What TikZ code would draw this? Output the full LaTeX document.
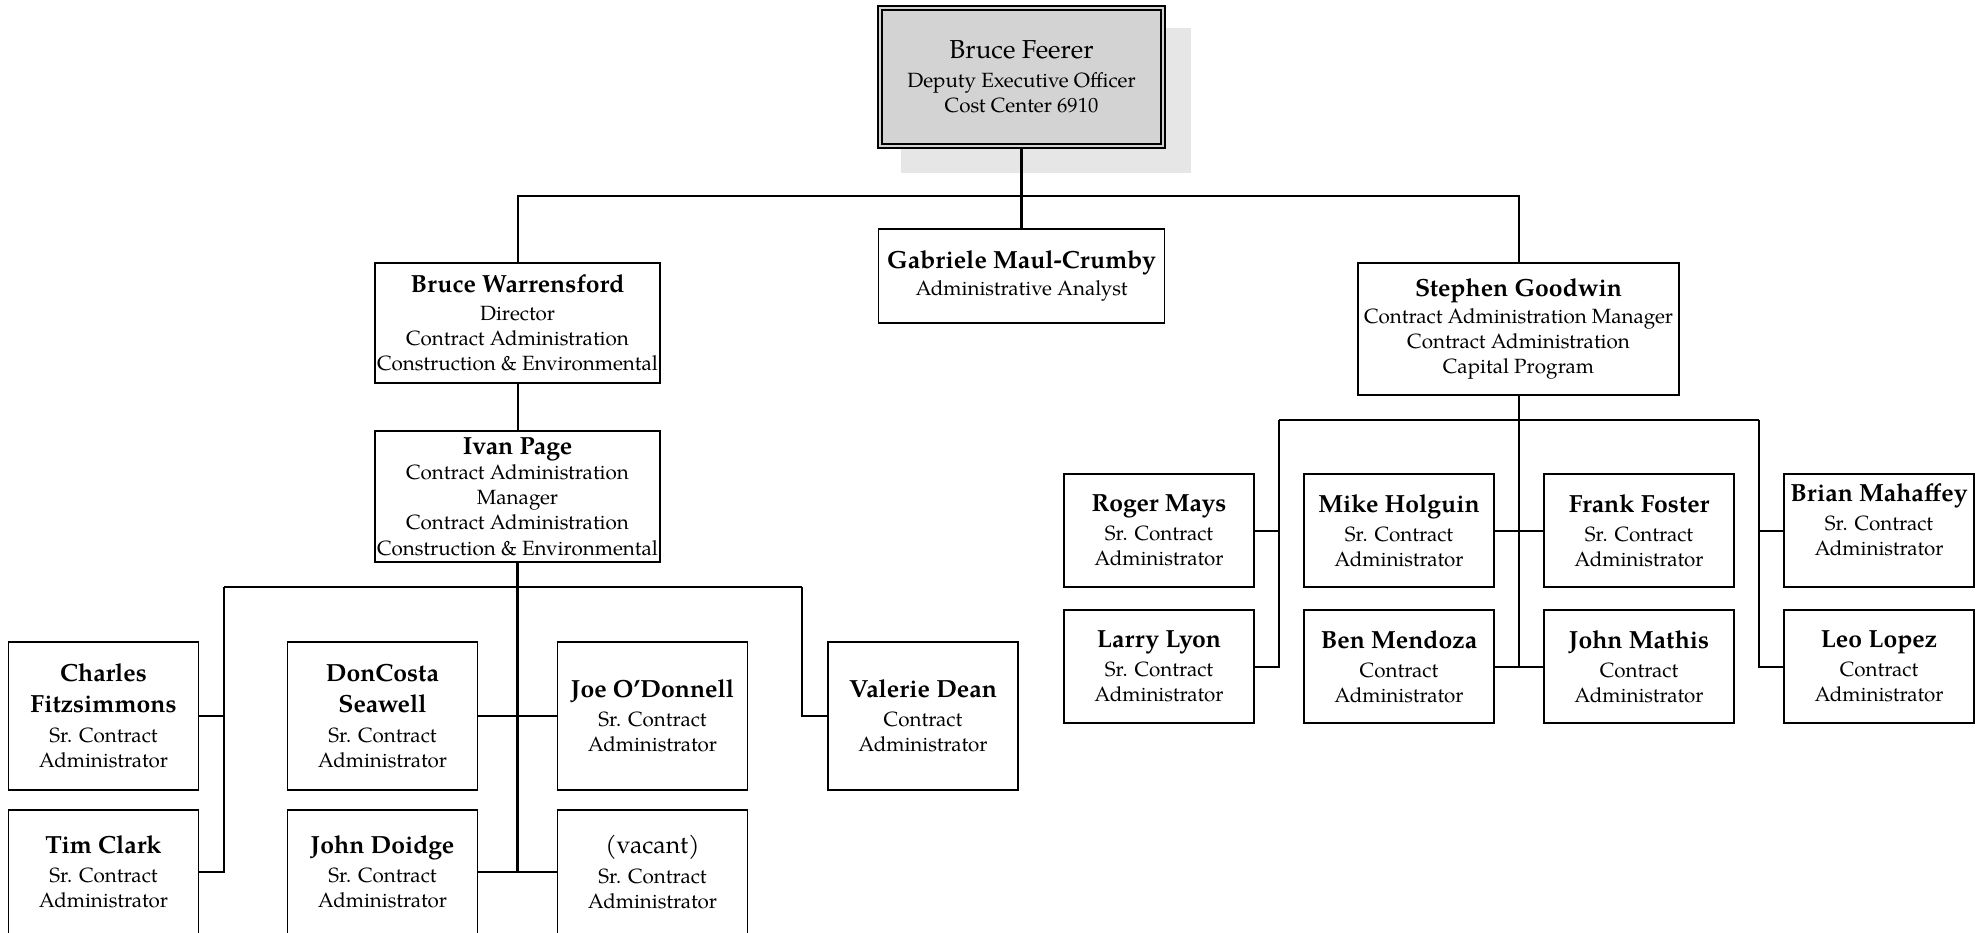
\documentclass[tikz,border=0pt]{standalone}
\usepackage{fontspec}
\setmainfont{texgyrepagella}[Extension=.otf, UprightFont=*-regular, BoldFont=*-bold, ItalicFont=*-italic, BoldItalicFont=*-bolditalic]
\definecolor{boxfill}{HTML}{D3D3D3}
\definecolor{shadowc}{HTML}{E6E6E6}
\newcommand\nmf[1]{{\fontsize{12.4}{15}\selectfont\bfseries #1}}
\begin{document}
\begin{tikzpicture}[x=0.5pt,y=-0.5pt,
  font=\fontsize{10.3}{12.6}\selectfont,
  box/.style={draw, line width=0.95pt, inner sep=0pt, align=center, fill=white, minimum width=95pt},
  lrowa/.style={box, minimum height=74pt},
  lrowb/.style={box, minimum height=62pt},
  rrow/.style={box, minimum height=56.5pt},
  topbox/.style={draw, line width=0.9pt, double=boxfill, double distance=1.1pt, fill=boxfill,
     inner sep=0pt, align=center, minimum width=141.6pt, minimum height=69pt},
  conn/.style={line width=1pt},
  trunk/.style={line width=1.4pt}]
\useasboundingbox (0,0) rectangle (1984,932);
\fill[white] (0,0) rectangle (1984,932);
% shadow of the top box
\fill[shadowc] (901,28) rectangle (1191,173);
% nodes
\node[topbox] (top) at (1021.5,77) {{\fontsize{13}{16}\selectfont Bruce Feerer}\\[2pt] Deputy Executive Officer\\ Cost Center 6910};
\node[box, minimum width=143pt, minimum height=47pt] (gab) at (1021.5,276) {\nmf{Gabriele Maul-Crumby}\\[1pt] Administrative Analyst};
\node[box, minimum width=142.5pt, minimum height=60pt] (bw) at (517.5,323) {\nmf{Bruce Warrensford}\\[1pt] Director\\ Contract Administration\\ Construction \& Environmental};
\node[box, minimum width=142.5pt, minimum height=65.5pt] (ip) at (517.5,496.5) {\nmf{Ivan Page}\\ Contract Administration\\ Manager\\ Contract Administration\\ Construction \& Environmental};
\node[box, minimum width=160.5pt, minimum height=66pt] (sg) at (1518.5,329) {\nmf{Stephen Goodwin}\\[1pt] Contract Administration Manager\\ Contract Administration\\ Capital Program};
% left group
\node[lrowa] (charles) at (103.5,716) {\nmf{Charles}\\[3pt] \nmf{Fitzsimmons}\\[2.4pt] Sr. Contract\\ Administrator};
\node[lrowb] (tim) at (103.5,872) {\nmf{Tim Clark}\\[2pt] Sr. Contract\\ Administrator};
\node[lrowa] (don) at (382.5,716) {\nmf{DonCosta}\\[3pt] \nmf{Seawell}\\[2.4pt] Sr. Contract\\ Administrator};
\node[lrowb] (doidge) at (382.5,872) {\nmf{John Doidge}\\[2pt] Sr. Contract\\ Administrator};
\node[lrowa] (joe) at (652.5,716) {\nmf{Joe O’Donnell}\\[2pt] Sr. Contract\\ Administrator};
\node[lrowb] (vac) at (652.5,872) {{\fontsize{12.4}{15}\selectfont (vacant)}\\[2pt] Sr. Contract\\ Administrator};
\node[lrowa] (val) at (923,716) {\nmf{Valerie Dean}\\[2pt] Contract\\ Administrator};
% right group
\node[rrow] (roger) at (1159,530.5) {\nmf{Roger Mays}\\[2pt] Sr. Contract\\ Administrator};
\node[rrow] (mike) at (1399,530.5) {\nmf{Mike Holguin}\\[2pt] Sr. Contract\\ Administrator};
\node[rrow] (frank) at (1639,530.5) {\nmf{Frank Foster}\\[2pt] Sr. Contract\\ Administrator};
\node[rrow] (brian) at (1879,530.5) {\nmf{Brian Mahaffey}\\[2pt] Sr. Contract\\ Administrator\\[-1.6pt]\mbox{}};
\node[rrow] (larry) at (1159,666.5) {\nmf{Larry Lyon}\\[2pt] Sr. Contract\\ Administrator};
\node[rrow] (ben) at (1399,666.5) {\nmf{Ben Mendoza}\\[2pt] Contract\\ Administrator};
\node[rrow] (mathis) at (1639,666.5) {\nmf{John Mathis}\\[2pt] Contract\\ Administrator};
\node[rrow] (leo) at (1879,666.5) {\nmf{Leo Lopez}\\[2pt] Contract\\ Administrator};
% junction coordinates
\coordinate (hub) at (1021.5,196);
\coordinate (lb) at (224,587);
\coordinate (rb) at (802,587);
\coordinate (slb) at (1279,420);
\coordinate (srb) at (1759,420);
% top connectors
\draw[conn] (bw.north) |- (hub) -| (sg.north);
\draw[trunk] (top.south) -- (gab.north);
\draw[conn] (bw.south) -- (ip.north);
% left connectors
\draw[conn] (lb) -- (rb);
\draw[conn] (lb) |- (tim.east);
\draw[conn] (charles.east) -- (charles.east -| lb);
\draw[conn] (don.east) -- (joe.west);
\draw[conn] (doidge.east) -- (vac.west);
\draw[conn] (rb) |- (val.west);
\draw[trunk] (ip.south) -- (ip.south |- doidge.east);
% right connectors
\draw[conn] (slb) -- (srb);
\draw[conn] (sg.south) -- (sg.south |- ben.east);
\draw[conn] (slb) |- (larry.east);
\draw[conn] (roger.east) -- (roger.east -| slb);
\draw[conn] (mike.east) -- (frank.west);
\draw[conn] (ben.east) -- (mathis.west);
\draw[conn] (srb) |- (leo.west);
\draw[conn] (brian.west) -- (brian.west -| srb);
\end{tikzpicture}
\end{document}
